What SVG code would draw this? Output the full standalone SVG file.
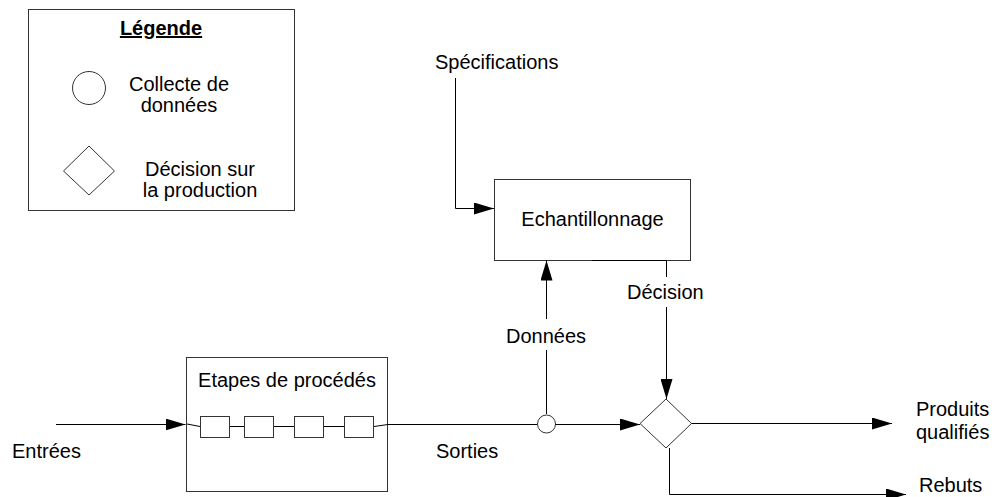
<svg xmlns="http://www.w3.org/2000/svg" width="994" height="497" viewBox="0 0 994 497">
<style>
text{font-family:"Liberation Sans",Arial,sans-serif;font-size:20px;fill:#000}
.box{fill:#fff;stroke:#333;stroke-width:1}
.ln{fill:none;stroke:#000;stroke-width:1}
.mid{text-anchor:middle}
</style>
<defs>
<marker id="arr" viewBox="0 0 20 12" refX="20" refY="6" markerWidth="20" markerHeight="12" orient="auto" markerUnits="userSpaceOnUse">
<path d="M0,0 L20,6 L0,12 z" fill="#000"/>
</marker>
</defs>
<rect width="994" height="497" fill="#fff"/>
<g id="legend">
<rect class="box" x="28.5" y="9.5" width="266" height="201"/>
<text x="161" y="35" class="mid" font-weight="bold" text-decoration="underline">Légende</text>
<circle class="box" cx="89" cy="88" r="16.5"/>
<text x="179" y="91" class="mid">Collecte de</text>
<text x="179" y="112" class="mid">données</text>
<polygon class="box" points="63.5,171 89,146 114.5,171 89,195"/>
<text x="200" y="176" class="mid">Décision sur</text>
<text x="200" y="197" class="mid">la production</text>
</g>
<g id="specifications">
<text x="435" y="69">Spécifications</text>
</g>
<g id="echantillonnage">
<rect class="box" x="494.5" y="179.5" width="196" height="81"/>
<text x="592.5" y="226" class="mid">Echantillonnage</text>
</g>
<g id="etapes">
<rect class="box" x="186.5" y="357.5" width="201" height="134"/>
<text x="287" y="387" class="mid">Etapes de procédés</text>
<rect class="box" x="200.5" y="416.5" width="29" height="21"/>
<rect class="box" x="244.5" y="416.5" width="29" height="21"/>
<rect class="box" x="294.5" y="416.5" width="29" height="21"/>
<rect class="box" x="344.5" y="416.5" width="29" height="21"/>
</g>
<g id="collecte">
<circle class="box" cx="546.5" cy="424" r="9"/>
</g>
<g id="decision">
<polygon class="box" points="640,423.5 666,399 691.5,423.5 666,448"/>
</g>
<g id="connectors">
<path class="ln" d="M56,424.5 H185.5" marker-end="url(#arr)"/>
<path class="ln" d="M455.5,78 V208.5 H494" marker-end="url(#arr)"/>
<path class="ln" d="M546.5,414 V350"/>
<path class="ln" d="M546.5,319 V260.5" marker-end="url(#arr)"/>
<path class="ln" d="M592,260.5 H666.5 V277"/>
<path class="ln" d="M666.5,307 V399" marker-end="url(#arr)"/>
<path class="ln" d="M187,424 L200,426.5"/>
<path class="ln" d="M230,426.5 H244 M274,426.5 H294 M324,426.5 H344"/>
<path class="ln" d="M374,426.5 L388,424.5 H537"/>
<path class="ln" d="M555.5,424.5 H640" marker-end="url(#arr)"/>
<path class="ln" d="M691.5,423.5 H892" marker-end="url(#arr)"/>
<path class="ln" d="M669.5,448 V494.5 H906" marker-end="url(#arr)"/>
</g>
<g id="labels">
<text x="12" y="458">Entrées</text>
<text x="436" y="458">Sorties</text>
<text x="506" y="342.5">Données</text>
<text x="627" y="299">Décision</text>
<text x="916" y="416">Produits</text>
<text x="916" y="439">qualifiés</text>
<text x="919" y="491.5">Rebuts</text>
</g>
</svg>
